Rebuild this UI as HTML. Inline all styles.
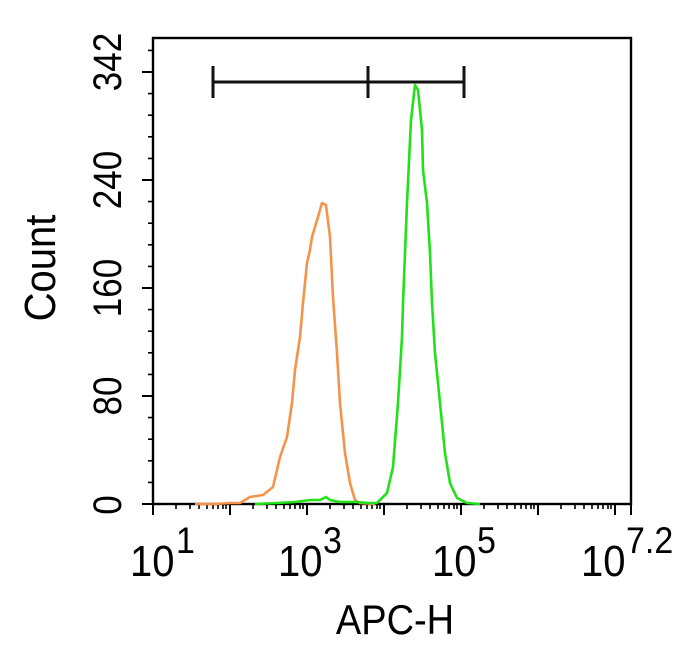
<!DOCTYPE html>
<html><head><meta charset="utf-8"><style>
html,body{margin:0;padding:0;background:#fff;}
svg{display:block;}
text{font-family:"Liberation Sans",Arial,sans-serif;fill:#000;}
</style></head><body>
<svg width="699" height="671" viewBox="0 0 699 671" xmlns="http://www.w3.org/2000/svg">
<g stroke="#000" stroke-width="2">
<path d="M153 504v11M230 504v11M307 504v11M384 504v11M461 504v11M538 504v11M615 504v11M631 504v11"/>
<g stroke-width="1.6">
<path d="M176 504v5M190 504v5M199 504v5M207 504v5M213 504v5M218 504v5M223 504v5M226 504v5"/>
<path d="M253 504v5M267 504v5M276 504v5M284 504v5M290 504v5M295 504v5M300 504v5M303 504v5"/>
<path d="M330 504v5M344 504v5M353 504v5M361 504v5M367 504v5M372 504v5M377 504v5M380 504v5"/>
<path d="M407 504v5M421 504v5M430 504v5M438 504v5M444 504v5M449 504v5M454 504v5M457 504v5"/>
<path d="M484 504v5M498 504v5M507 504v5M515 504v5M521 504v5M526 504v5M531 504v5M534 504v5"/>
<path d="M561 504v5M575 504v5M584 504v5M592 504v5M598 504v5M603 504v5M608 504v5M611 504v5"/>
</g>
<path d="M142 504h11M142 396h11M142 288h11M142 180h11M142 72h11"/>
<g stroke-width="1.6">
<path d="M148 482.4h5M148 460.8h5M148 439.2h5M148 417.6h5M148 374.4h5M148 352.8h5M148 331.2h5M148 309.6h5M148 266.4h5M148 244.8h5M148 223.2h5M148 201.6h5M148 158.4h5M148 136.8h5M148 115.2h5M148 93.6h5M148 50.4h5"/>
</g>
</g>
<rect x="153" y="38" width="478" height="466" fill="none" stroke="#000" stroke-width="2.4"/>
<g stroke="#111" stroke-width="3">
<line x1="213" y1="82" x2="464" y2="82"/>
<line x1="213" y1="66" x2="213" y2="98"/>
<line x1="368" y1="66" x2="368" y2="98"/>
<line x1="464" y1="66" x2="464" y2="98"/>
</g>
<polyline fill="none" stroke="#f4934a" stroke-width="2.6" stroke-linejoin="round" points="195,504 215,504 230,503 240,503 250,497 263,495 273,487 280,457 287,437 292,403 295,370 300,337 303,303 307,263 310,250 312,237 318,217 322,203 326,205 330,237 333,297 337,353 340,403 345,453 350,483 355,500 360,503 375,504"/>
<polyline fill="none" stroke="#22e019" stroke-width="2.6" stroke-linejoin="round" points="255,504 277,503 295,502 310,500 320,500 326,497 330,500 340,502 355,502 370,503 377,503 387,493 393,467 398,403 402,337 403,303 407,203 411,120 415,85 418,90 422,130 423,170 427,203 430,253 432,303 435,353 440,403 445,453 450,483 457,498 467,503 480,504"/>
<g font-size="35">
<text transform="translate(121,62) rotate(-90) scale(1,1.15)" text-anchor="middle">342</text>
<text transform="translate(121,180) rotate(-90) scale(1,1.15)" text-anchor="middle">240</text>
<text transform="translate(121,288) rotate(-90) scale(1,1.15)" text-anchor="middle">160</text>
<text transform="translate(121,396) rotate(-90) scale(1,1.15)" text-anchor="middle">80</text>
<text transform="translate(121,505) rotate(-90) scale(1,1.15)" text-anchor="middle">0</text>
<text transform="translate(55,268) rotate(-90) scale(1,1.1)" text-anchor="middle" font-size="40">Count</text>
</g>
<g font-size="40">
<text transform="translate(130,576) scale(1,1.1)">10</text><text transform="translate(176,553) scale(1,1.1)" font-size="34">1</text>
<text transform="translate(278,576) scale(1,1.1)">10</text><text transform="translate(323,553) scale(1,1.1)" font-size="34">3</text>
<text transform="translate(432,576) scale(1,1.1)">10</text><text transform="translate(477,553) scale(1,1.1)" font-size="34">5</text>
<text transform="translate(581,576) scale(1,1.1)">10</text><text transform="translate(626,553) scale(1,1.1)" font-size="34">7.2</text>
<text transform="translate(395,634) scale(1,1.1)" font-size="38" text-anchor="middle">APC-H</text>
</g>
</svg>
</body></html>
